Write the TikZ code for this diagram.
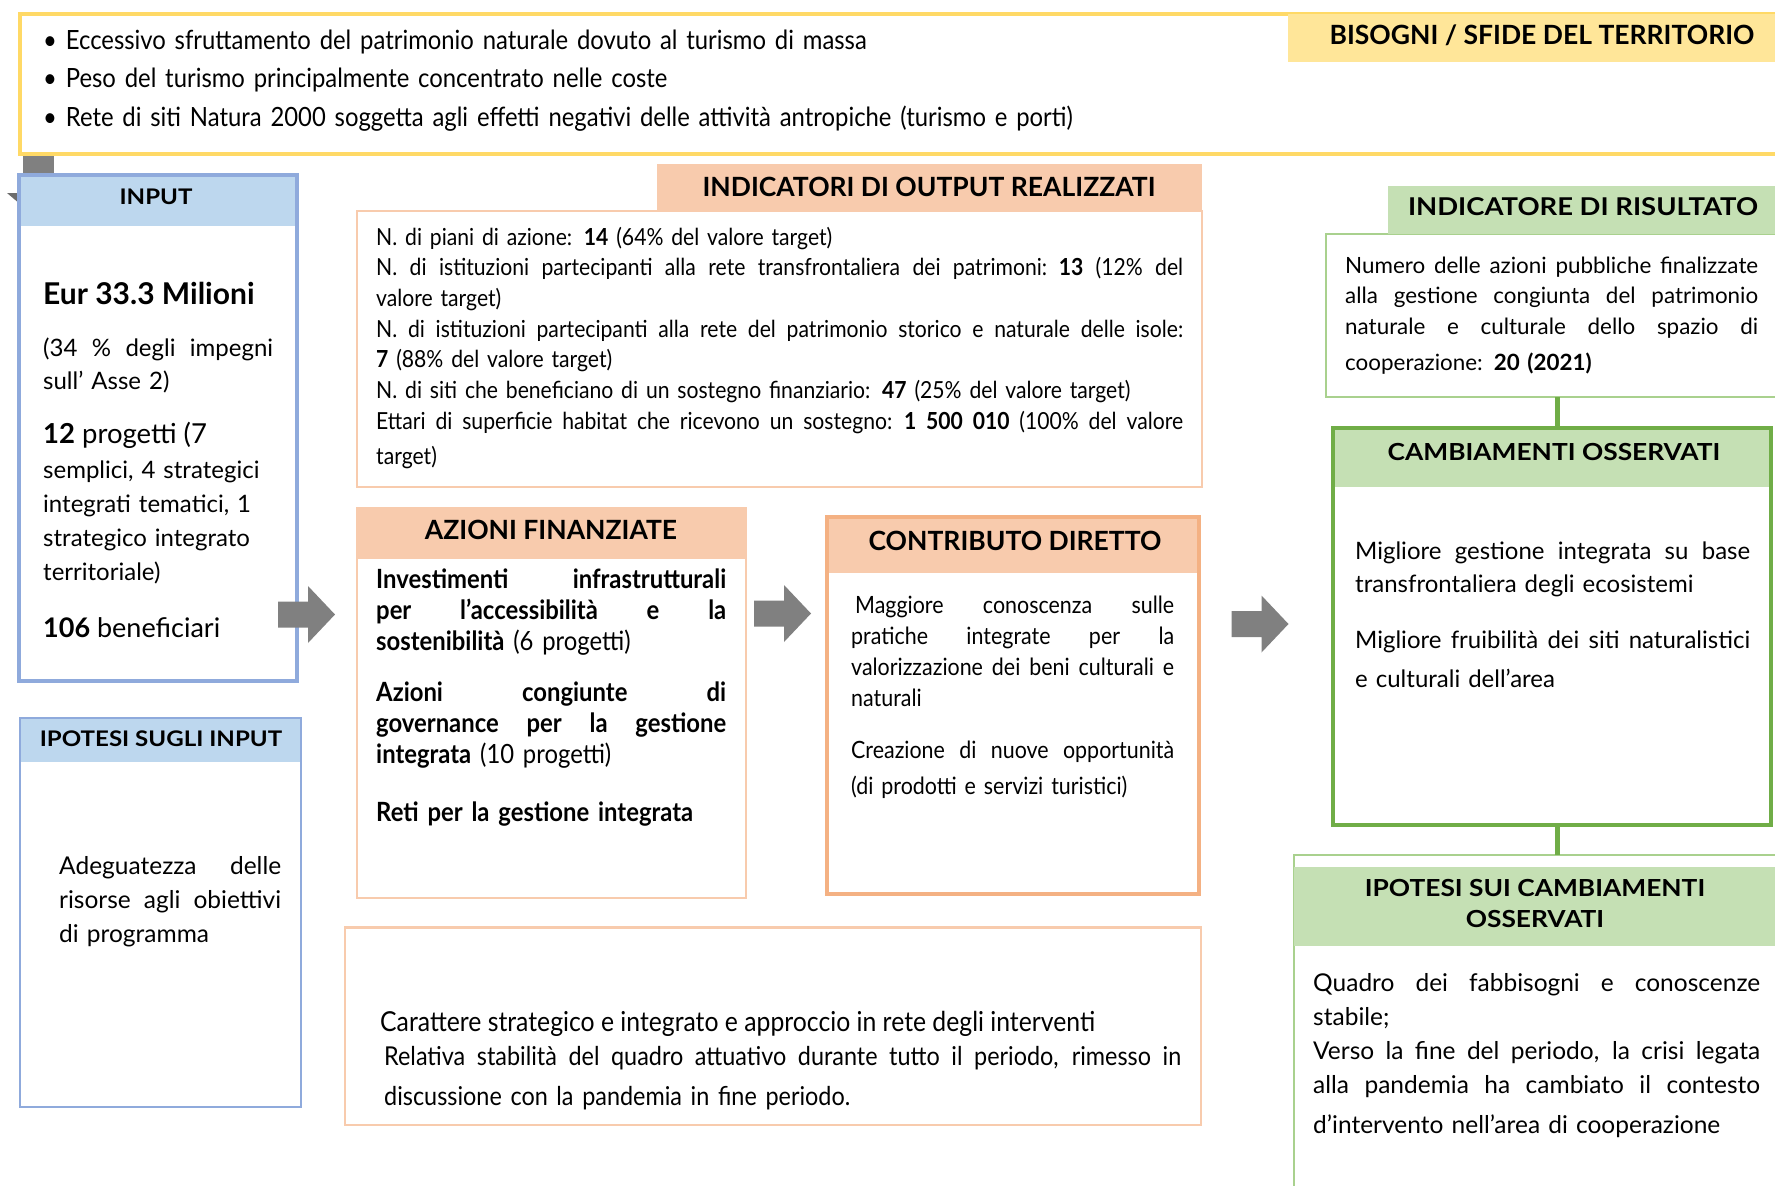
\documentclass[tikz,border=0pt]{standalone}
\usepackage{fontspec}
\setmainfont{Lato}
\newfontfamily\cnd[FakeStretch=0.9]{Lato}
\newfontfamily\wid[FakeStretch=1.12]{Lato}
\definecolor{yelB}{HTML}{FFD966}
\definecolor{yelF}{HTML}{FFE699}
\definecolor{bluB}{HTML}{8FAADC}
\definecolor{bluF}{HTML}{BDD7EE}
\definecolor{peaF}{HTML}{F8CBAD}
\definecolor{peaB}{HTML}{F4B183}
\definecolor{grnF}{HTML}{C5E0B4}
\definecolor{grnB}{HTML}{70AD47}
\definecolor{grnT}{HTML}{A9D18E}
\definecolor{arrG}{HTML}{808080}
\newlength\jwid
\newcommand\jl[1]{\leavevmode\hbox to\jwid{\spaceskip=\fontdimen2\font plus 1fil\relax#1}}
\begin{document}
\begin{tikzpicture}[x=1pt,y=-1pt,
  box/.style={anchor=north west, inner sep=0pt, outer sep=0pt},
  txt/.style={anchor=base west, inner sep=0pt, align=left},
  jw/.style={text width=#1, execute at begin node={\setlength\jwid{#1}}},
  whdr/.style={inner sep=0pt, font=\wid\fontsize{21.5}{24}\selectfont\bfseries, align=center},
  ghdr/.style={inner sep=0pt, font=\wid\fontsize{23.5}{31}\selectfont\bfseries, align=center},
  chdr/.style={inner sep=0pt, font=\fontsize{26.5}{30}\selectfont\bfseries, align=center},
  barrow/.pic={\fill[arrG] (-28.5,-13) -- (1.5,-13) -- (1.5,-28.5) -- (28.5,0)
      -- (1.5,28.5) -- (1.5,13) -- (-28.5,13) -- cycle;},
  link/.style={draw=grnB, line width=5pt}]
\useasboundingbox (0,0) rectangle (1775,1186);
\fill[white] (0,0) rectangle (1775,1186);
\clip (0,0) rectangle (1775,1186);

% hidden arrow fragments
\fill[arrG] (23,156) rectangle (54,178);
\fill[arrG!85!black] (7,193) -- (20,193) -- (20,204) -- cycle;

% ---------- needs ----------
\node[box, draw=yelB, line width=4pt, minimum width=1800pt, minimum height=140pt] (needB) at (20,14) {};
\node[box, fill=yelF, minimum width=500pt, minimum height=48pt] (needH) at (1288,14) {};
\node[chdr] (needT) at (1542,35) {BISOGNI / SFIDE DEL TERRITORIO};
\node[txt, text width=1200pt, font=\cnd\fontsize{26.5}{38.5}\selectfont] (needX) at (43,49)
 {\textbullet\ Eccessivo sfruttamento del patrimonio naturale dovuto al turismo di massa\\
  \textbullet\ Peso del turismo principalmente concentrato nelle coste\\
  \textbullet\ Rete di siti Natura 2000 soggetta agli effetti negativi delle attività antropiche (turismo e porti)};

% ---------- input ----------
\node[box, fill=bluF, minimum width=278pt, minimum height=51pt] (inH) at (19,175) {};
\node[whdr] (inT) at (156,197) {INPUT};
\node[box, draw=bluB, line width=3.5pt, minimum width=278pt, minimum height=506pt] (inB) at (19,175) {};
\node[txt, font=\fontsize{30}{34}\selectfont\bfseries] (inA) at (43,304) {Eur 33.3 Milioni};
\node[txt, jw=230pt, font=\fontsize{24}{33}\selectfont] (inP) at (43,356)
 {\jl{(34 \% degli impegni}\\ sull’ Asse 2)};
\node[txt, font=\fontsize{27.5}{30}\selectfont] (inC) at (43,443) {\textbf{12} progetti (7};
\node[txt, text width=232pt, font=\fontsize{24}{34}\selectfont] (inD) at (43,478)
 {semplici, 4 strategici\\ integrati tematici, 1\\ strategico integrato\\ territoriale)};
\node[txt, font=\fontsize{27}{30}\selectfont] (inE) at (43,637) {\textbf{106} beneficiari};

% ---------- ipotesi input ----------
\node[box, fill=bluF, minimum width=281pt, minimum height=44pt] (hiH) at (20,718) {};
\node[whdr] (hiT) at (161,739) {IPOTESI SUGLI INPUT};
\node[box, draw=bluB, line width=1.3pt, minimum width=281pt, minimum height=389pt] (hiB) at (20,718) {};
\node[txt, jw=222pt, font=\fontsize{24.5}{34}\selectfont] (hiX) at (59,874)
 {\jl{Adeguatezza delle}\\ \jl{risorse agli obiettivi}\\ di programma};

% ---------- indicatori output ----------
\node[box, draw=peaF, line width=1.5pt, minimum width=845pt, minimum height=276pt] (ioB) at (357,211) {};
\node[box, fill=peaF, minimum width=545pt, minimum height=48pt] (ioH) at (657,164) {};
\node[chdr] (ioT) at (929,187) {INDICATORI DI OUTPUT REALIZZATI};
\node[txt, jw=807pt, font=\cnd\fontsize{23.5}{30.7}\selectfont] (ioX) at (376,245)
 {N. di piani di azione: \textbf{14} (64\% del valore target)\\
  \jl{N. di istituzioni partecipanti alla rete transfrontaliera dei patrimoni: \textbf{13} (12\% del}\\
  valore target)\\
  \jl{N. di istituzioni partecipanti alla rete del patrimonio storico e naturale delle isole:}\\
  \textbf{7} (88\% del valore target)\\
  N. di siti che beneficiano di un sostegno finanziario: \textbf{47} (25\% del valore target)\\
  \jl{Ettari di superficie habitat che ricevono un sostegno: \textbf{1 500 010} (100\% del valore}\\[5pt]
  target)};

% ---------- azioni ----------
\node[box, fill=peaF, minimum width=389pt, minimum height=51pt] (azH) at (357,508) {};
\node[chdr] (azT) at (551,530) {AZIONI FINANZIATE};
\node[box, draw=peaF, line width=1.5pt, minimum width=389pt, minimum height=390pt] (azB) at (357,508) {};
\node[txt, jw=350pt, font=\cnd\fontsize{26.5}{31}\selectfont] (azX) at (376,588)
 {\jl{\textbf{Investimenti infrastrutturali}}\\
  \jl{\textbf{per l’accessibilità e la}}\\
  \textbf{sostenibilità} (6 progetti)\\[20pt]
  \jl{\textbf{Azioni congiunte di}}\\
  \jl{\textbf{governance per la gestione}}\\
  \textbf{integrata} (10 progetti)\\[27pt]
  \textbf{Reti per la gestione integrata}};

% ---------- contributo ----------
\node[box, fill=peaF, minimum width=372pt, minimum height=56pt] (coH) at (827,517) {};
\node[chdr] (coT) at (1015,541) {CONTRIBUTO DIRETTO};
\node[box, draw=peaB, line width=4pt, minimum width=372pt, minimum height=377pt] (coB) at (827,517) {};
\node[txt, jw=323pt, font=\cnd\fontsize{23.8}{31}\selectfont] (coX) at (851,613)
 {\jl{\,Maggiore conoscenza sulle}\\
  \jl{pratiche integrate per la}\\
  \jl{valorizzazione dei beni culturali e}\\
  naturali\\[21pt]
  \jl{Creazione di nuove opportunità}\\[5pt]
  (di prodotti e servizi turistici)};

% ---------- bottom ipotesi ----------
\node[box, draw=peaF, line width=1.5pt, minimum width=856pt, minimum height=198pt] (btB) at (345,927) {};
\draw[draw=peaF, line width=3pt] (btB.north west) -- (btB.north east);
\node[txt, font=\cnd\fontsize{27.5}{34}\selectfont] (btA) at (380,1031)
 {Carattere strategico e integrato e approccio in rete degli interventi};
\node[txt, jw=797pt, font=\cnd\fontsize{26}{34}\selectfont] (btX) at (384,1065)
 {\jl{Relativa stabilità del quadro attuativo durante tutto il periodo, rimesso in}\\[6pt]
  discussione con la pandemia in fine periodo.};

% ---------- arrows ----------
\coordinate (arr1) at (306.5,614.5);
\coordinate (arr2) at (782.5,613.5);
\coordinate (arr3) at (1260,624);
\pic at (arr1) {barrow};
\pic at (arr2) {barrow};
\pic at (arr3) {barrow};

% ---------- risultato ----------
\node[box, draw=grnT, line width=1.5pt, minimum width=474pt, minimum height=163pt] (riB) at (1326,234) {};
\node[box, fill=grnF, minimum width=412pt, minimum height=48pt] (riH) at (1388,186) {};
\node[ghdr, font=\wid\fontsize{24.5}{28}\selectfont\bfseries] (riT) at (1583,207) {INDICATORE DI RISULTATO};
\node[txt, jw=413pt, font=\fontsize{22.4}{30.5}\selectfont] (riX) at (1345,273)
 {\jl{Numero delle azioni pubbliche finalizzate}\\
  \jl{alla gestione congiunta del patrimonio}\\
  \jl{naturale e culturale dello spazio di}\\[6pt]
  cooperazione: \textbf{20 (2021)}};

% ---------- cambiamenti ----------
\node[box, fill=grnF, minimum width=438pt, minimum height=59pt] (caH) at (1333,428) {};
\node[ghdr] (caT) at (1554,452) {CAMBIAMENTI OSSERVATI};
\node[box, draw=grnB, line width=4.5pt, minimum width=438pt, minimum height=397pt] (caB) at (1333,428) {};
\node[txt, jw=395pt, font=\fontsize{24}{33}\selectfont] (caX) at (1355,559)
 {\jl{Migliore gestione integrata su base}\\
  transfrontaliera degli ecosistemi\\[23pt]
  \jl{Migliore fruibilità dei siti naturalistici}\\[6pt]
  e culturali dell’area};

% ---------- ipotesi cambiamenti ----------
\node[box, draw=grnT, line width=1.5pt, minimum width=506pt, minimum height=400pt] (icB) at (1294,855) {};
\node[box, fill=grnF, minimum width=506pt, minimum height=79pt] (icH) at (1294,867) {};
\node[ghdr] (icT) at (1535,903) {IPOTESI SUI CAMBIAMENTI\\OSSERVATI};
\node[txt, jw=447pt, font=\fontsize{24.5}{34}\selectfont] (icX) at (1313,991)
 {\jl{Quadro dei fabbisogni e conoscenze}\\
  stabile;\\
  \jl{Verso la fine del periodo, la crisi legata}\\
  \jl{alla pandemia ha cambiato il contesto}\\[6pt]
  d’intervento nell’area di cooperazione};

% ---------- links ----------
\coordinate (k1) at (1557,397);
\coordinate (k2) at (1557,825);
\draw[link] (k1) -- (k1 |- caB.north);
\draw[link] (k2) -- (k2 |- icB.north);
\end{tikzpicture}
\end{document}
